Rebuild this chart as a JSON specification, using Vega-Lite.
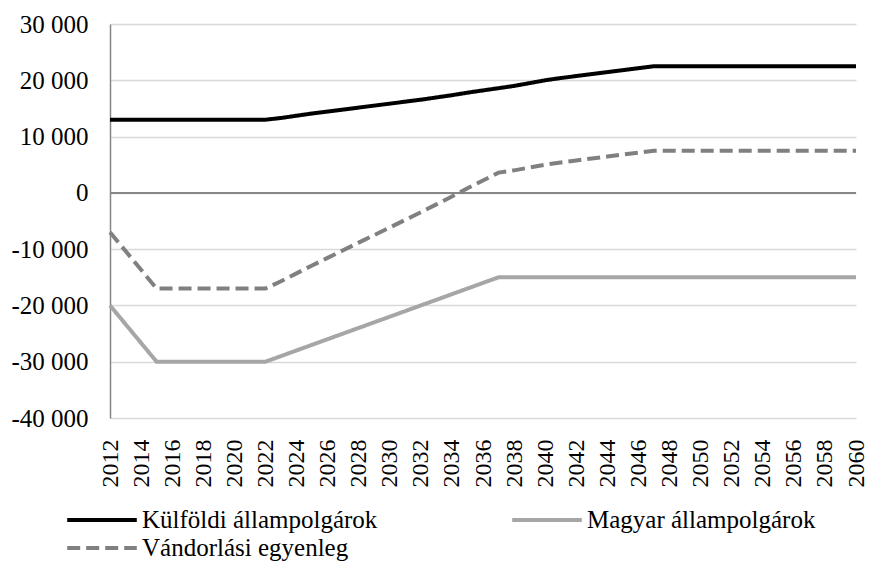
{
  "$schema": "https://vega.github.io/schema/vega-lite/v6.json",
  "width": 746,
  "height": 394,
  "padding": {"left": 10, "top": 12, "right": 10, "bottom": 0},
  "background": "white",
  "config": {
    "locale": {"number": {"decimal": ",", "thousands": " ", "grouping": [3], "currency": ["", ""], "minus": "-"}},
    "font": "Liberation Serif",
    "view": {"stroke": null},
    "legend": {
      "title": null, "columns": 2, "direction": "horizontal", "padding": 0,
      "symbolType": "M-2.9,0H2.9", "symbolSize": 576, "symbolStrokeWidth": 4,
      "symbolOffset": 23, "labelOffset": 26,
      "labelFontSize": 25, "labelColor": "#000000", "labelFont": "Liberation Serif",
      "columnPadding": 126, "rowPadding": 1, "labelLimit": 500
    }
  },
  "data": {"values": [
    {"year": 2012, "K": 13000, "M": -20000, "V": -7000},
    {"year": 2013, "K": 13000, "M": -23333, "V": -10333},
    {"year": 2014, "K": 13000, "M": -26667, "V": -13667},
    {"year": 2015, "K": 13000, "M": -30000, "V": -17000},
    {"year": 2016, "K": 13000, "M": -30000, "V": -17000},
    {"year": 2017, "K": 13000, "M": -30000, "V": -17000},
    {"year": 2018, "K": 13000, "M": -30000, "V": -17000},
    {"year": 2019, "K": 13000, "M": -30000, "V": -17000},
    {"year": 2020, "K": 13000, "M": -30000, "V": -17000},
    {"year": 2021, "K": 13000, "M": -30000, "V": -17000},
    {"year": 2022, "K": 13000, "M": -30000, "V": -17000},
    {"year": 2023, "K": 13300, "M": -29000, "V": -15700},
    {"year": 2024, "K": 13700, "M": -28000, "V": -14300},
    {"year": 2025, "K": 14100, "M": -27000, "V": -12900},
    {"year": 2026, "K": 14450, "M": -26000, "V": -11550},
    {"year": 2027, "K": 14800, "M": -25000, "V": -10200},
    {"year": 2028, "K": 15150, "M": -24000, "V": -8850},
    {"year": 2029, "K": 15500, "M": -23000, "V": -7500},
    {"year": 2030, "K": 15850, "M": -22000, "V": -6150},
    {"year": 2031, "K": 16200, "M": -21000, "V": -4800},
    {"year": 2032, "K": 16550, "M": -20000, "V": -3450},
    {"year": 2033, "K": 16950, "M": -19000, "V": -2050},
    {"year": 2034, "K": 17350, "M": -18000, "V": -650},
    {"year": 2035, "K": 17800, "M": -17000, "V": 800},
    {"year": 2036, "K": 18200, "M": -16000, "V": 2200},
    {"year": 2037, "K": 18600, "M": -15000, "V": 3600},
    {"year": 2038, "K": 19000, "M": -15000, "V": 4000},
    {"year": 2039, "K": 19500, "M": -15000, "V": 4500},
    {"year": 2040, "K": 20000, "M": -15000, "V": 5000},
    {"year": 2041, "K": 20400, "M": -15000, "V": 5400},
    {"year": 2042, "K": 20750, "M": -15000, "V": 5750},
    {"year": 2043, "K": 21100, "M": -15000, "V": 6100},
    {"year": 2044, "K": 21450, "M": -15000, "V": 6450},
    {"year": 2045, "K": 21800, "M": -15000, "V": 6800},
    {"year": 2046, "K": 22150, "M": -15000, "V": 7150},
    {"year": 2047, "K": 22500, "M": -15000, "V": 7500},
    {"year": 2048, "K": 22500, "M": -15000, "V": 7500},
    {"year": 2049, "K": 22500, "M": -15000, "V": 7500},
    {"year": 2050, "K": 22500, "M": -15000, "V": 7500},
    {"year": 2051, "K": 22500, "M": -15000, "V": 7500},
    {"year": 2052, "K": 22500, "M": -15000, "V": 7500},
    {"year": 2053, "K": 22500, "M": -15000, "V": 7500},
    {"year": 2054, "K": 22500, "M": -15000, "V": 7500},
    {"year": 2055, "K": 22500, "M": -15000, "V": 7500},
    {"year": 2056, "K": 22500, "M": -15000, "V": 7500},
    {"year": 2057, "K": 22500, "M": -15000, "V": 7500},
    {"year": 2058, "K": 22500, "M": -15000, "V": 7500},
    {"year": 2059, "K": 22500, "M": -15000, "V": 7500},
    {"year": 2060, "K": 22500, "M": -15000, "V": 7500}
  ]},
  "transform": [{"fold": ["K", "M", "V"], "as": ["key", "value"]}],
  "encoding": {
    "x": {
      "field": "year", "type": "quantitative",
      "scale": {"domain": [2012, 2060], "nice": false, "zero": false},
      "axis": {
        "title": null,
        "values": [2012, 2014, 2016, 2018, 2020, 2022, 2024, 2026, 2028, 2030, 2032, 2034, 2036, 2038, 2040, 2042, 2044, 2046, 2048, 2050, 2052, 2054, 2056, 2058, 2060],
        "format": "d", "labelAngle": 270, "grid": false, "domain": false, "ticks": false,
        "labelFontSize": 24, "labelPadding": 21, "labelColor": "#000000", "labelOverlap": false, "labelFlush": false
      }
    },
    "y": {
      "field": "value", "type": "quantitative",
      "scale": {"domain": [-40000, 30000], "nice": false},
      "axis": {
        "title": null,
        "values": [-40000, -30000, -20000, -10000, 0, 10000, 20000, 30000],
        "format": ",d", "grid": true, "gridColor": "#d9d9d9", "gridWidth": 1.5,
        "domainColor": "#868686", "domainWidth": 1.5, "ticks": false,
        "labelFontSize": 25, "labelPadding": 22, "labelColor": "#000000"
      }
    }
  },
  "layer": [
    {
      "mark": {"type": "rule", "color": "#868686", "strokeWidth": 1.5},
      "encoding": {"y": {"datum": 0}, "x": {"value": 0}, "x2": {"value": 746}}
    },
    {
      "mark": {"type": "line", "strokeWidth": 4, "strokeCap": "butt"},
      "encoding": {
        "color": {
          "field": "key", "type": "nominal",
          "scale": {"domain": ["K", "M", "V"], "range": ["#000000", "#a6a6a6", "#808080"]},
          "legend": {
            "orient": "none", "legendX": -45, "legendY": 482,
            "labelExpr": "datum.label == 'K' ? 'Külföldi állampolgárok' : datum.label == 'M' ? 'Magyar állampolgárok' : 'Vándorlási egyenleg'"
          }
        },
        "strokeDash": {
          "field": "key", "type": "nominal",
          "scale": {"domain": ["K", "M", "V"], "range": [[1, 0], [1, 0], [13, 6]]},
          "legend": {
            "orient": "none", "legendX": -45, "legendY": 482,
            "labelExpr": "datum.label == 'K' ? 'Külföldi állampolgárok' : datum.label == 'M' ? 'Magyar állampolgárok' : 'Vándorlási egyenleg'"
          }
        }
      }
    }
  ]
}
